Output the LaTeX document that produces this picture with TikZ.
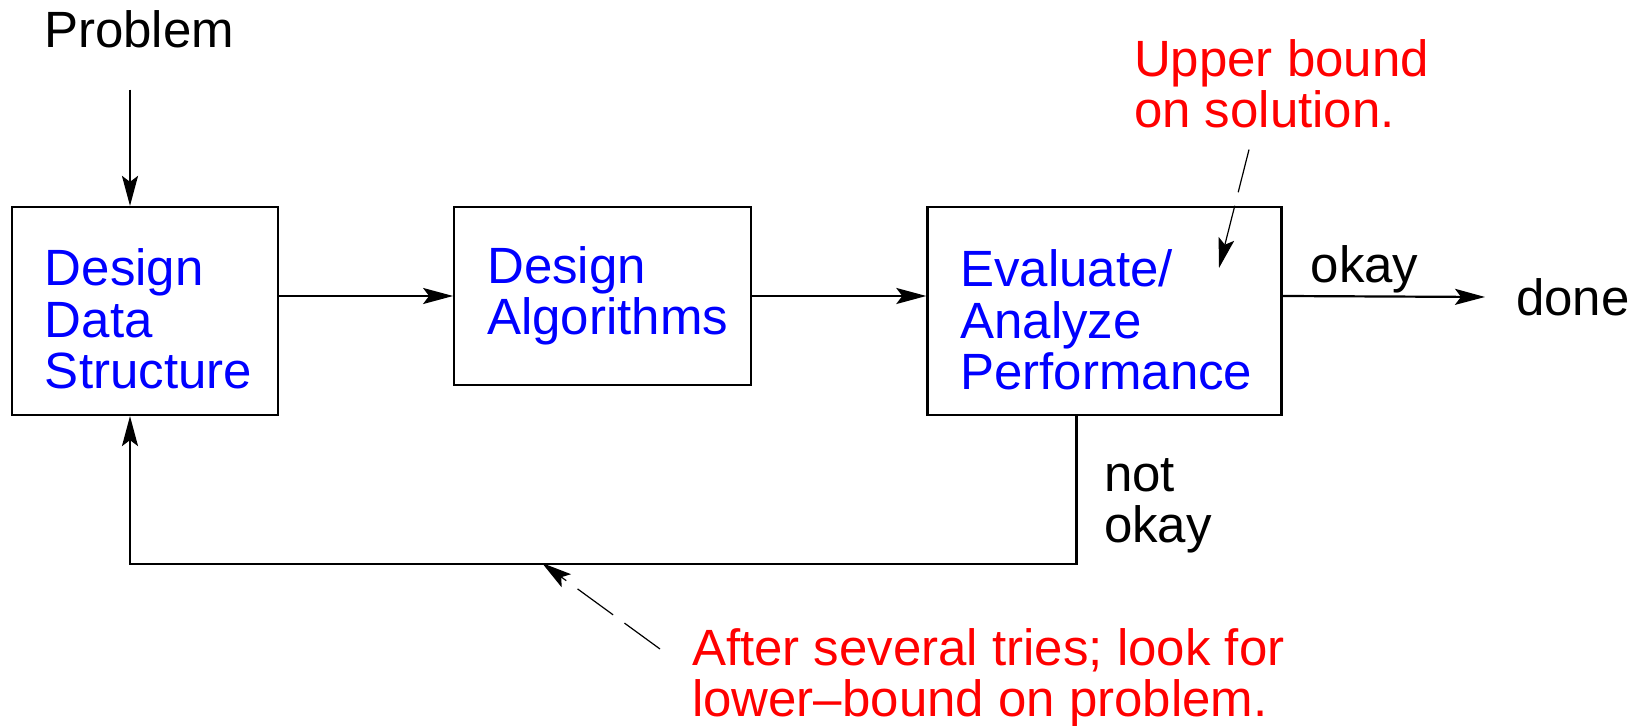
\documentclass[tikz,border=0pt]{standalone}
\usepackage{fontspec}
\setmainfont{Liberation Sans}
\usetikzlibrary{arrows.meta, positioning}
\newcommand{\figfont}{\fontsize{25.5pt}{25.75pt}\selectfont}

\begin{document}
\begin{tikzpicture}[x=0.5pt, y=-0.5pt, line width=1.1pt, node distance=87pt,
  >={Stealth[length=15pt, width=8pt, inset=3pt]},
  every node/.style={font=\figfont},
  stage/.style={draw, rectangle, align=left, text=blue, inner xsep=16.5pt, inner ysep=0pt, minimum height=104pt},
  note/.style={align=left, text=red, inner sep=0pt},
  hint/.style={->, line width=0.6pt, dash pattern=on 22pt off 7pt}]
\useasboundingbox (0,0) rectangle (1646,726);

% define the stages
  \node[stage, text width=100pt, text height=26.6pt] (dds) at (145,311) {Design\\Data\\Structure};
  \node[stage, text width=115.5pt, minimum height=89pt, below right=0pt and 87pt of dds.north east] (alg) {Design\\Algorithms};
  \node[stage, text width=144pt, text height=27.6pt, below right=0pt and 87pt of alg.north east] (eval) {Evaluate/\\Analyze\\Performance};

% labels and notes (base = last line)
  \node[inner sep=0pt, anchor=base west] (prob) at (43,48) {Problem};
  \node[anchor=west, inner xsep=15pt, inner ysep=0pt] (done) at (1485,297) {done};
  \node[align=left, inner sep=0pt, anchor=base west] (nok) at (1103,543) {not\\okay};
  \node[note, anchor=base west] (ub) at (1133,128) {Upper bound\\on solution.};
  \node[note, anchor=base west] (lb) at (691,717) {After several tries; look for\\lower--bound on problem.};

  \coordinate (dtop) at ([xshift=-7.5pt]dds.north);
  \coordinate (dbot) at ([xshift=-7.5pt]dds.south);
  \coordinate (ubtip) at (1219,268);
  \coordinate (lbtip) at (542,563);

% define the links
  \draw[->, shorten <=20pt] (prob.south -| dtop) -- (dtop);
  \draw[->] (dds.east |- alg.west) -- (alg.west);
  \draw[->] (alg.east) -- (alg.east -| eval.west);
  \draw[->] (eval.east |- alg.east) -- node[pos=0.405, anchor=base, yshift=7pt] (okl) {okay} (done.west);
  \draw[->] ([xshift=-14pt]eval.south) -- ++(0,-74pt) -| (dbot);

  \draw[hint] ([xshift=58pt, yshift=-10pt]ub.south west) -- (ubtip);
  \draw[hint] ([xshift=-15.5pt, yshift=34pt]lb.base west) -- (lbtip);
\end{tikzpicture}
\end{document}
